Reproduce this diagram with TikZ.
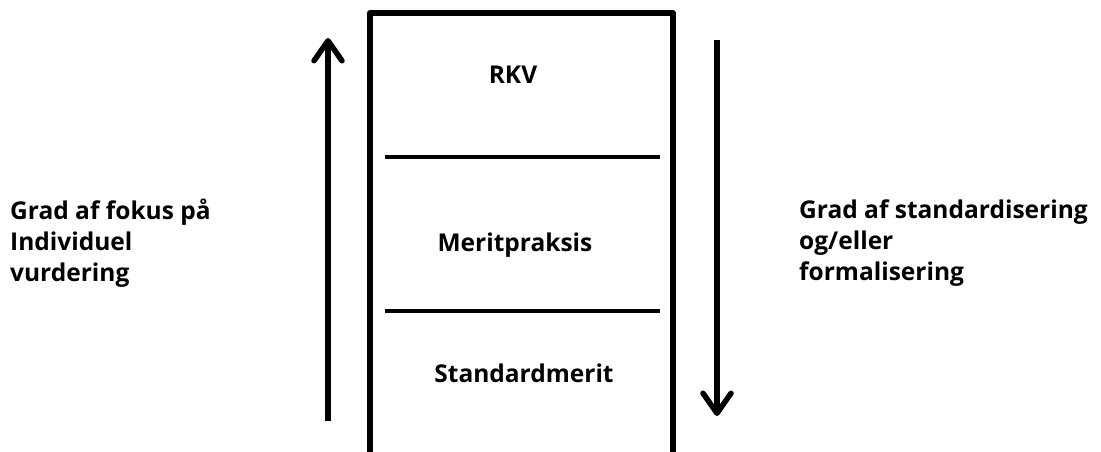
\documentclass[tikz,border=0pt]{standalone}
\usepackage{fontspec}
\setmainfont{Open Sans}
\usetikzlibrary{arrows.meta}
\tikzset{
  boxline/.style={line width=5.5pt},
  divline/.style={line width=3.5pt},
  bigarrow/.style={line width=5.5pt,-{Straight Barb[length=20pt,width=28pt,line cap=round,line join=round]}},
  lbl/.style={font=\bfseries\fontsize{24.5}{31}\selectfont,inner sep=0pt},
  side/.style={lbl,align=left,anchor=west}
}
\begin{document}
\begin{tikzpicture}[x=1pt,y=-1pt]
\useasboundingbox (0,0) rectangle (1101,451);
\coordinate (bl) at (370,460);
\coordinate (tl) at (370,13);
\coordinate (tr) at (673,13);
\coordinate (br) at (673,460);
\draw[boxline,line join=round] (bl) -- (tl) -- (tr) -- (br);
\coordinate (d1l) at (385,157); \coordinate (d1r) at (660,157);
\coordinate (d2l) at (385,311); \coordinate (d2r) at (660,311);
\draw[divline] (d1l) -- (d1r);
\draw[divline] (d2l) -- (d2r);
\node[lbl] (rkv) at (513,75) {RKV};
\node[lbl] (mp) at (515,245) {Meritpraksis};
\node[lbl] (sm) at (524,373) {Standardmerit};
\coordinate (la0) at (328,421);
\coordinate (la1) at (328,38);
\draw[bigarrow] (la0) -- (la1);
\coordinate (ra0) at (717,40);
\coordinate (ra1) at (717,416);
\draw[bigarrow] (ra0) -- (ra1);
\node[side] (lt) at (10,243) {Grad af fokus på\\Individuel\\vurdering};
\node[side] (rt) at (799,243) {Grad af standardisering\\og/eller\\formalisering};
\end{tikzpicture}
\end{document}
